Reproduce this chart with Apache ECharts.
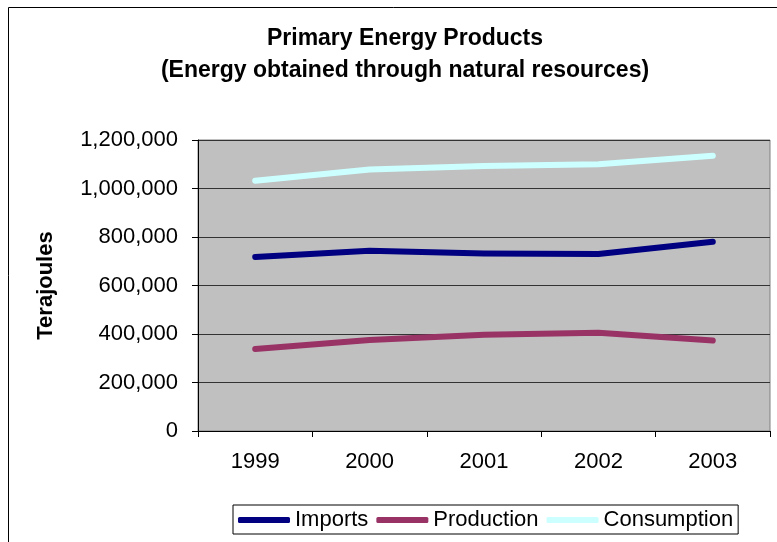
<!DOCTYPE html>
<html>
<head>
<meta charset="utf-8">
<script src="https://cdn.jsdelivr.net/npm/echarts@6/dist/echarts.min.js"></script>
<style>
  html, body { margin: 0; padding: 0; background: #fff; }
  #main { width: 777px; height: 542px; }
</style>
</head>
<body>
<div id="main"></div>
<script>
// values (terajoules)
var years = ['1999', '2000', '2001', '2002', '2003'];
var imports = [718000, 743000, 732000, 730000, 780000];
var production = [338000, 375000, 397000, 405000, 373000];
var consumption = [1032000, 1078000, 1093000, 1100000, 1135000];
var yTicks = [0, 200000, 400000, 600000, 800000, 1000000, 1200000];

var chartDom = document.getElementById('main');
var myChart = echarts.init(chartDom);
var option;

var font = 'Liberation Sans, Arial, sans-serif';

function fmt(v) {
    return String(v).replace(/\B(?=(\d{3})+(?!\d))/g, ',');
}

function lineSeries(name, data, color) {
    return {
        name: name,
        type: 'line',
        data: data,
        symbol: 'none',
        smooth: false,
        lineStyle: { color: color, width: 6, cap: 'round', join: 'round' },
        itemStyle: { color: color }
    };
}

option = {
    backgroundColor: '#fff',
    animation: false,
    textStyle: { fontFamily: font },
    title: {
        text: 'Primary Energy Products\n(Energy obtained through natural resources)',
        left: 400,
        top: 18,
        textAlign: 'center',
        textStyle: {
            fontFamily: font,
            fontSize: 23,
            fontWeight: 'bold',
            color: '#000',
            lineHeight: 32
        }
    },
    graphic: [
        {
            type: 'rect',
            shape: { x: 8.5, y: 7.5, width: 790, height: 560 },
            style: { fill: null, stroke: '#000', lineWidth: 1 },
            silent: true
        }
    ],
    legend: {
        left: 233,
        top: 505,
        itemWidth: 52,
        itemHeight: 6,
        itemGap: 8,
        icon: 'roundRect',
        padding: [4, 5, 3, 5],
        borderColor: '#000',
        borderWidth: 1,
        backgroundColor: '#fff',
        textStyle: { fontFamily: font, fontSize: 22, color: '#000' },
        data: ['Imports', 'Production', 'Consumption']
    },
    grid: {
        left: 198,
        top: 140,
        width: 572,
        height: 291,
        show: true,
        backgroundColor: '#c0c0c0',
        borderColor: '#808080',
        borderWidth: 1,
        containLabel: false
    },
    xAxis: {
        type: 'category',
        data: years,
        boundaryGap: true,
        axisLine: { lineStyle: { color: '#000', width: 1 } },
        axisTick: { show: true, length: 6, inside: false, lineStyle: { color: '#000' } },
        axisLabel: { fontFamily: font, fontSize: 22, color: '#000', margin: 20 },
        splitLine: { show: false }
    },
    yAxis: {
        type: 'value',
        min: yTicks[0],
        max: yTicks[yTicks.length - 1],
        interval: 200000,
        name: 'Terajoules',
        nameLocation: 'middle',
        nameGap: 141,
        nameRotate: 90,
        nameTextStyle: { fontFamily: font, fontSize: 22, fontWeight: 'bold', color: '#000' },
        axisLine: { show: true, lineStyle: { color: '#000', width: 1 } },
        axisTick: { show: true, length: 6, inside: false, lineStyle: { color: '#000' } },
        axisLabel: {
            fontFamily: font,
            fontSize: 22,
            color: '#000',
            margin: 20,
            formatter: function (v) { return fmt(v); }
        },
        splitLine: { show: true, lineStyle: { color: '#333', width: 1 } }
    },
    series: [
        lineSeries('Imports', imports, '#000080'),
        lineSeries('Production', production, '#993366'),
        lineSeries('Consumption', consumption, '#ccffff')
    ]
};

option && myChart.setOption(option);
</script>
</body>
</html>
